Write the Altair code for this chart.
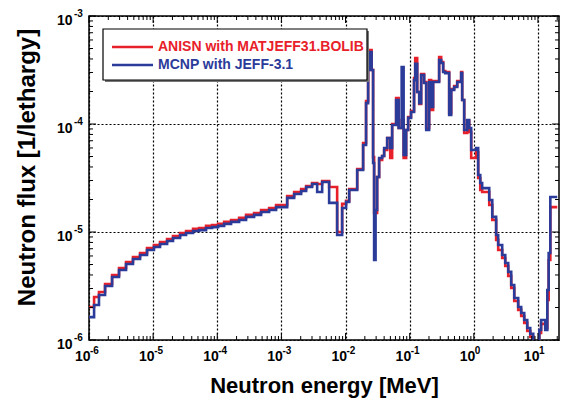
import altair as alt
import pandas as pd

# ---------------- data ----------------
# group lower boundaries [MeV]; the last value closes the final group
energy = [
    1.00e-6, 1.20e-6, 1.43e-6, 1.78e-6, 2.29e-6, 2.94e-6, 3.78e-6, 4.85e-6, 6.25e-6, 8.03e-6,
    1.03e-5, 1.28e-5, 1.65e-5, 2.04e-5, 2.63e-5, 3.26e-5, 4.19e-5, 5.20e-5, 6.68e-5, 8.30e-5,
    1.03e-4, 1.28e-4, 1.64e-4, 2.19e-4, 2.81e-4, 3.75e-4, 4.82e-4, 6.43e-4, 8.26e-4,
    1.23e-3, 1.58e-3, 2.03e-3, 2.43e-3, 3.01e-3, 3.61e-3, 4.32e-3, 5.55e-3, 7.40e-3, 8.85e-3,
    1.02e-2, 1.14e-2, 1.52e-2, 1.88e-2, 2.09e-2, 2.25e-2, 2.33e-2, 2.55e-2, 2.69e-2, 2.79e-2,
    2.94e-2, 3.11e-2, 3.34e-2, 3.72e-2, 4.00e-2, 4.46e-2, 4.97e-2, 5.33e-2, 6.15e-2, 6.73e-2,
    7.50e-2, 8.05e-2, 8.81e-2, 9.47e-2,
    0.105, 0.117, 0.122, 0.131, 0.141, 0.151, 0.168, 0.181, 0.201, 0.216, 0.232, 0.288, 0.310,
    0.333, 0.358, 0.413, 0.444, 0.494, 0.551, 0.635, 0.659, 0.708, 0.789, 0.847, 0.910,
    1.09, 1.17, 1.26, 1.35, 1.74, 1.94, 2.23, 2.40, 2.77, 3.09, 3.44, 3.83, 4.27, 4.92, 5.48,
    6.11, 6.81, 7.59, 8.45, 9.40,
    10.5, 11.2, 13.0, 14.0, 14.7, 15.6, 20.0,
]

flux_anisn = [
    2.02e-6, 2.50e-6, 2.78e-6, 3.30e-6, 4.00e-6, 4.64e-6, 5.27e-6, 5.87e-6, 6.40e-6, 7.11e-6,
    7.59e-6, 8.07e-6, 8.61e-6, 9.18e-6, 9.79e-6, 1.02e-5, 1.07e-5, 1.09e-5, 1.14e-5, 1.16e-5,
    1.19e-5, 1.24e-5, 1.29e-5, 1.35e-5, 1.44e-5, 1.50e-5, 1.60e-5, 1.67e-5, 1.78e-5,
    2.15e-5, 2.35e-5, 2.50e-5, 2.67e-5, 2.84e-5, 2.78e-5, 2.96e-5, 2.61e-5, 1.00e-5, 1.82e-5,
    1.94e-5, 2.50e-5, 3.83e-5, 6.67e-5, 1.63e-4, 3.30e-4, 4.84e-4, 3.16e-4, 4.94e-5, 1.50e-5,
    1.50e-5, 3.23e-5, 4.64e-5, 5.06e-5, 5.74e-5, 7.41e-5, 4.84e-5, 1.00e-4, 1.74e-4, 9.18e-5,
    1.09e-4, 4.84e-5, 8.79e-5, 1.16e-4,
    1.32e-4, 2.67e-4, 4.08e-4, 1.98e-4, 1.53e-4, 2.90e-4, 2.45e-4, 9.18e-5, 2.55e-4, 1.35e-4,
    2.50e-4, 4.17e-4, 3.75e-4, 3.10e-4, 3.03e-4, 1.26e-4, 2.11e-4, 2.25e-4, 2.50e-4, 3.03e-4,
    1.67e-4, 8.26e-5, 1.07e-4, 8.43e-5, 4.84e-5,
    5.51e-5, 3.16e-5, 2.45e-5, 2.35e-5, 1.78e-5, 1.29e-5, 8.43e-6, 6.81e-6, 5.74e-6, 4.84e-6,
    3.92e-6, 3.03e-6, 2.30e-6, 1.90e-6, 1.67e-6, 1.44e-6, 1.21e-6, 1.07e-6, 9.2e-7, 8.1e-7,
    1.16e-6, 1.41e-6, 1.29e-6, 2.35e-6, 5.51e-6, 1.70e-5,
]

flux_mcnp = [
    1.63e-6, 2.11e-6, 2.61e-6, 3.16e-6, 3.83e-6, 4.45e-6, 5.06e-6, 5.62e-6, 6.12e-6, 6.81e-6,
    7.26e-6, 7.74e-6, 8.26e-6, 8.79e-6, 9.38e-6, 9.79e-6, 1.02e-5, 1.04e-5, 1.09e-5, 1.11e-5,
    1.14e-5, 1.19e-5, 1.24e-5, 1.29e-5, 1.38e-5, 1.44e-5, 1.53e-5, 1.60e-5, 1.70e-5,
    2.07e-5, 2.25e-5, 2.40e-5, 2.61e-5, 2.78e-5, 2.35e-5, 2.90e-5, 1.86e-5, 9.38e-6, 1.67e-5,
    1.90e-5, 2.45e-5, 3.75e-5, 6.40e-5, 1.56e-4, 3.16e-4, 4.64e-4, 3.16e-4, 4.35e-5, 5.51e-6,
    1.60e-5, 3.23e-5, 4.84e-5, 5.06e-5, 6.00e-5, 7.41e-5, 6.00e-5, 9.79e-5, 1.67e-4, 9.18e-5,
    3.37e-4, 5.16e-5, 8.79e-5, 1.14e-4,
    1.29e-4, 2.55e-4, 3.60e-4, 1.98e-4, 1.56e-4, 2.84e-4, 2.40e-4, 8.79e-5, 2.45e-4, 1.44e-4,
    2.45e-4, 3.92e-4, 3.67e-4, 3.03e-4, 2.96e-4, 1.21e-4, 2.07e-4, 2.20e-4, 2.45e-4, 2.96e-4,
    1.67e-4, 8.79e-5, 1.09e-4, 9.18e-5, 5.74e-5,
    6.00e-5, 3.37e-5, 2.84e-5, 2.55e-5, 1.98e-5, 1.38e-5, 9.38e-6, 7.59e-6, 6.12e-6, 5.16e-6,
    4.27e-6, 3.23e-6, 2.45e-6, 2.02e-6, 1.78e-6, 1.53e-6, 1.29e-6, 1.14e-6, 9.6e-7, 8.4e-7,
    1.24e-6, 1.53e-6, 1.24e-6, 2.90e-6, 6.40e-6, 2.11e-5,
]

series_names = ["ANISN with MATJEFF31.BOLIB", "MCNP with JEFF-3.1"]
series_colors = ["#E8202A", "#2B3B9A"]

x_major = [1e-6, 1e-5, 1e-4, 1e-3, 1e-2, 1e-1, 1e0, 1e1]
x_exps = ["-6", "-5", "-4", "-3", "-2", "-1", "0", "1"]
y_major = [1e-6, 1e-5, 1e-4, 1e-3]
y_exps = ["-6", "-5", "-4", "-3"]

X_DOMAIN = [1e-6, 21.3]
Y_DOMAIN = [1e-6, 1e-3]

# ---------------- layout / style ----------------
W, H = 470, 324
PAD_L = 81
FONT = "Liberation Sans"

assert len(flux_anisn) == len(energy) - 1 and len(flux_mcnp) == len(energy) - 1


def step_frame(flux):
    return pd.DataFrame({"energy": energy, "flux": list(flux) + [flux[-1]]})


xs = alt.Scale(type="log", domain=X_DOMAIN, nice=False)
ys = alt.Scale(type="log", domain=Y_DOMAIN, nice=False)

x_axis = alt.Axis(
    values=x_major, labelExpr="'10'", labelAlign="right", labelBaseline="middle",
    labelPadding=16, labelOffset=1, labelFontSize=14, labelFont=FONT, labelFontWeight="bold",
    labelColor="black", labelOverlap=False, labelFlush=False,
    ticks=False, tickSize=0, domain=False,
    grid=True, gridColor="black", gridDash=[2, 2], gridWidth=1.2, gridOpacity=1,
    title="Neutron energy [MeV]", titleFont=FONT, titleFontSize=22, titleFontWeight="bold",
    titleColor="black", titleX=235, titleY=45, titleAlign="center", titleBaseline="middle",
)
y_axis = alt.Axis(
    values=y_major, labelExpr="'10'", labelAlign="right", labelBaseline="middle",
    labelPadding=17, labelOffset=4, labelFontSize=14, labelFont=FONT, labelFontWeight="bold",
    labelColor="black", labelOverlap=False, labelFlush=False,
    ticks=False, tickSize=0, domain=False,
    grid=True, gridColor="black", gridDash=[2, 2], gridWidth=1.2, gridOpacity=1,
    title="Neutron flux [1/lethargy]", titleFont=FONT, titleFontSize=24, titleFontWeight="bold",
    titleColor="black", titleX=-62, titleY=151, titleAngle=270, titleAlign="center",
    titleBaseline="middle",
)


def X(field):
    return alt.X(field, scale=xs, axis=x_axis)


def Y(field):
    return alt.Y(field, scale=ys, axis=y_axis)


red = alt.Chart(step_frame(flux_anisn)).mark_line(
    interpolate="step-after", color=series_colors[0], strokeWidth=2.6, clip=True
).encode(x=X("energy:Q"), y=Y("flux:Q"))
blue = alt.Chart(step_frame(flux_mcnp)).mark_line(
    interpolate="step-after", color=series_colors[1], strokeWidth=2.6, clip=True
).encode(x=X("energy:Q"), y=Y("flux:Q"))

# minor / major inward ticks on all four sides
x_minor = [m * 10.0 ** k for k in range(-6, 2) for m in range(2, 10) if m * 10.0 ** k < X_DOMAIN[1]]
y_minor = [m * 10.0 ** k for k in range(-6, -3) for m in range(2, 10)]


def xticks(vals, length):
    d = pd.DataFrame({"energy": vals})
    b = alt.Chart(d).mark_rule(color="black", strokeWidth=1)
    return [
        b.encode(x=X("energy:Q"), y=alt.value(H), y2=alt.value(H - length)),
        b.encode(x=X("energy:Q"), y=alt.value(0), y2=alt.value(length)),
    ]


def yticks(vals, length):
    d = pd.DataFrame({"flux": vals})
    b = alt.Chart(d).mark_rule(color="black", strokeWidth=1)
    return [
        b.encode(y=Y("flux:Q"), x=alt.value(0), x2=alt.value(length)),
        b.encode(y=Y("flux:Q"), x=alt.value(W), x2=alt.value(W - length)),
    ]


tick_layers = xticks(x_minor, 4) + xticks(x_major, 7) + yticks(y_minor, 4) + yticks(y_major, 7)

# exponents of the tick labels
x_exp = alt.Chart(pd.DataFrame({"energy": x_major, "e": x_exps})).mark_text(
    align="left", baseline="middle", dx=1, fontSize=10, font=FONT, fontWeight="bold", color="black"
).encode(x=X("energy:Q"), y=alt.value(H + 11), text="e:N")
y_exp = alt.Chart(pd.DataFrame({"flux": y_major, "e": y_exps})).mark_text(
    align="left", baseline="middle", dy=-2, fontSize=10, font=FONT, fontWeight="bold", color="black"
).encode(y=Y("flux:Q"), x=alt.value(-15), text="e:N")

# legend box
one = pd.DataFrame({"k": [0]})
shadow = alt.Chart(one).mark_rect(fill="#777777").encode(
    x=alt.value(16), x2=alt.value(280), y=alt.value(15), y2=alt.value(66))
box = alt.Chart(one).mark_rect(fill="white", stroke="black", strokeWidth=1.2).encode(
    x=alt.value(14), x2=alt.value(278), y=alt.value(13), y2=alt.value(64))
legend_layers = [shadow, box]
for i, (name, col) in enumerate(zip(series_names, series_colors)):
    yy = 31 + 18 * i
    legend_layers.append(
        alt.Chart(one).mark_rule(color=col, strokeWidth=2.6).encode(
            x=alt.value(23), x2=alt.value(64), y=alt.value(yy))
    )
    legend_layers.append(
        alt.Chart(pd.DataFrame({"label": [name]})).mark_text(
            align="left", baseline="middle", fontSize=14, font=FONT, fontWeight="bold", color=col
        ).encode(x=alt.value(69), y=alt.value(yy), text="label:N")
    )

chart = alt.layer(
    red, blue, *tick_layers, x_exp, y_exp, *legend_layers
).properties(
    width=W, height=H,
    padding={"left": PAD_L, "top": 8, "right": 1, "bottom": 63},
    autosize=alt.AutoSizeParams(type="none"),
).configure(background="white").configure_view(stroke="black", strokeWidth=1.5)

chart.save("out.html", embed_options={"renderer": "svg", "actions": False})
